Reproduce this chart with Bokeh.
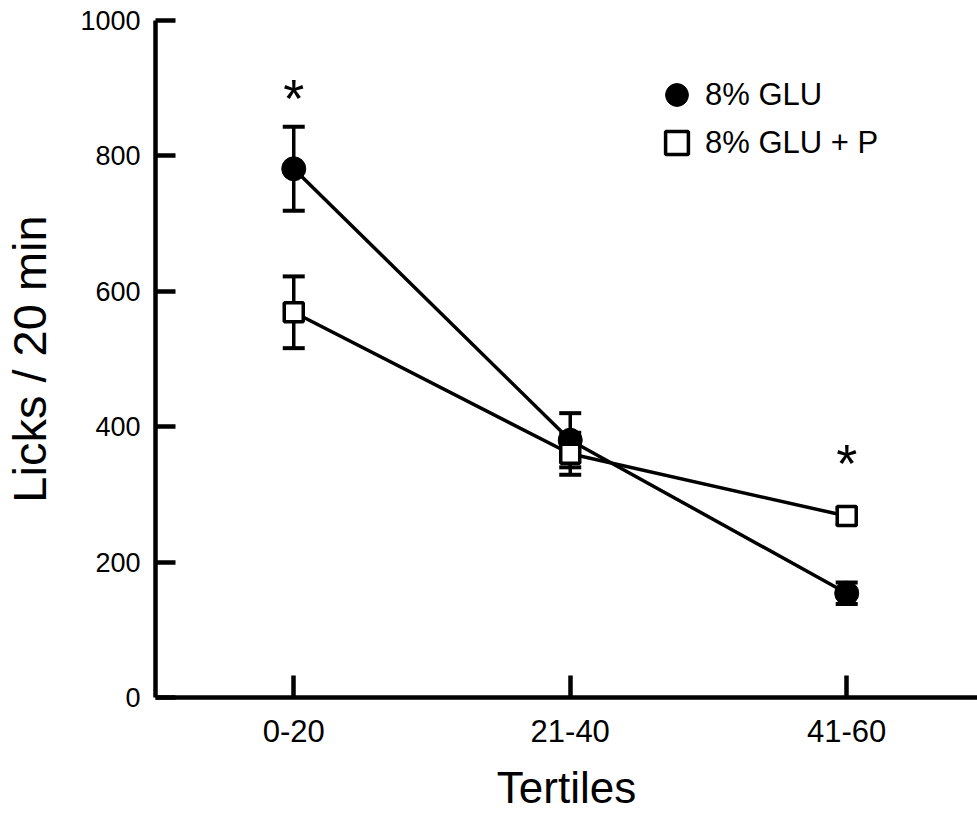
from bokeh.plotting import figure
from bokeh.models import (ColumnDataSource, Whisker, TeeHead, FixedTicker,
                          Legend, LegendItem, Range1d)
from bokeh.core.properties import value
from bokeh.embed import file_html
from bokeh.resources import INLINE

# Lick counts per 20-min tertile (mean and SEM)
tertiles = ["0-20", "21-40", "41-60"]
x_pos = [1, 2, 3]
glu_mean = [781, 380, 154]
glu_sem = [62, 40, 16]
glup_mean = [569, 360, 268]
glup_sem = [53, 31, 12]
# significance markers
star_x = [1, 3]
star_y = [885, 346]
y_ticks = [0, 200, 400, 600, 800, 1000]

FONT = "Liberation Sans"

glu = ColumnDataSource(dict(
    x=x_pos, y=glu_mean,
    upper=[m + s for m, s in zip(glu_mean, glu_sem)],
    lower=[m - s for m, s in zip(glu_mean, glu_sem)]))
glup = ColumnDataSource(dict(
    x=x_pos, y=glup_mean,
    upper=[m + s for m, s in zip(glup_mean, glup_sem)],
    lower=[m - s for m, s in zip(glup_mean, glup_sem)]))

p = figure(width=977, height=815,
           x_range=Range1d(0.5, 3.473), y_range=Range1d(0, 1000),
           output_backend="svg", toolbar_location=None,
           min_border_left=155, min_border_right=0,
           min_border_top=20, min_border_bottom=118)

p.outline_line_color = None
p.xgrid.visible = False
p.ygrid.visible = False
p.background_fill_color = "white"
p.border_fill_color = "white"

# error bars
for src in (glu, glup):
    w = Whisker(source=src, base="x", upper="upper", lower="lower",
                line_width=3.5, line_color="black",
                upper_head=TeeHead(size=22, line_width=4, line_color="black"),
                lower_head=TeeHead(size=22, line_width=4, line_color="black"))
    p.add_layout(w)

# connecting lines
p.line("x", "y", source=glu, line_width=3.5, line_color="black")
p.line("x", "y", source=glup, line_width=3.5, line_color="black")

# markers
r_glu = p.scatter("x", "y", source=glu, marker="circle", size=24,
                  fill_color="black", line_color="black", line_width=1)
r_glup = p.scatter("x", "y", source=glup, marker="square", size=19,
                   fill_color="white", line_color="black", line_width=3.5)

# asterisks
p.text(x=star_x, y=star_y, text=["*", "*"], text_font=value(FONT),
       text_font_size="54px", text_align="center",
       text_baseline="alphabetic", text_color="black")

# axes
xa = p.xaxis[0]
xa.ticker = FixedTicker(ticks=x_pos)
xa.major_label_overrides = {x: t for x, t in zip(x_pos, tertiles)}
xa.minor_tick_line_color = None
xa.major_tick_in = 22
xa.major_tick_out = 0
xa.major_tick_line_width = 4.5
xa.axis_line_width = 4.5
xa.major_label_text_font = FONT
xa.major_label_text_font_size = "31px"
xa.major_label_text_color = "black"
xa.major_label_standoff = 22
xa.axis_label = "Tertiles"
xa.axis_label_text_font = FONT
xa.axis_label_text_font_size = "44px"
xa.axis_label_text_font_style = "normal"
xa.axis_label_text_color = "black"
xa.axis_label_standoff = 18

ya = p.yaxis[0]
ya.ticker = FixedTicker(ticks=y_ticks)
ya.minor_tick_line_color = None
ya.major_tick_in = 20
ya.major_tick_out = 0
ya.major_tick_line_width = 4.5
ya.axis_line_width = 4.5
ya.major_label_text_font = FONT
ya.major_label_text_font_size = "27px"
ya.major_label_text_color = "black"
ya.major_label_standoff = 15
ya.axis_label = "Licks / 20 min"
ya.axis_label_text_font = FONT
ya.axis_label_text_font_size = "47px"
ya.axis_label_text_font_style = "normal"
ya.axis_label_text_color = "black"
ya.axis_label_standoff = 21

# legend: one entry per box so the rows can sit closer than the glyph box
legend_style = dict(padding=0, margin=0, spacing=0,
                    glyph_width=57, glyph_height=57, label_standoff=0,
                    label_text_font=FONT, label_text_font_size="31px",
                    label_text_color="black",
                    border_line_color=None, background_fill_alpha=0)
leg1 = Legend(items=[LegendItem(label="8% GLU", renderers=[r_glu])],
              location=(493, 574), **legend_style)
leg2 = Legend(items=[LegendItem(label="8% GLU + P", renderers=[r_glup])],
              location=(493, 526), **legend_style)
p.add_layout(leg1)
p.add_layout(leg2)

open("out.html", "w").write(file_html(p, INLINE))
